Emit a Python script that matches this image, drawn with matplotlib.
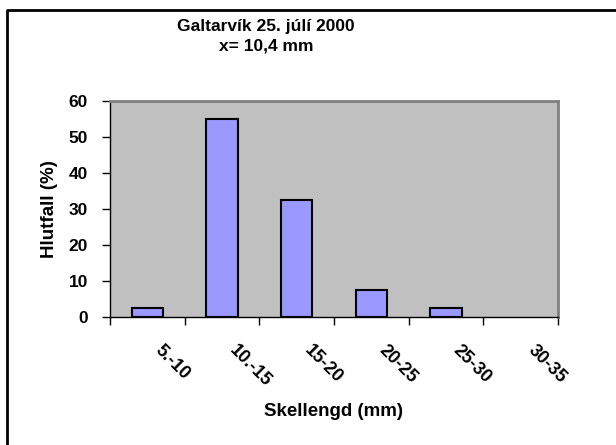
import matplotlib
matplotlib.use("Agg")
import matplotlib.pyplot as plt
import numpy as np

# length classes and share of snails in each (%)
flokkar = ["5.-10", "10.-15", "15-20", "20-25", "25-30", "30-35"]
hlutfall = [2.5, 55.0, 32.5, 7.5, 2.5, 0.0]

plt.rcParams['font.family'] = ['Liberation Sans', 'DejaVu Sans']
plt.rcParams['font.weight'] = 'bold'

W, H = 616, 445
fig = plt.figure(figsize=(W / 100, H / 100), dpi=100)
ax = fig.add_axes([110 / W, 1 - 317 / H, 448 / W, 216 / H])

x = np.arange(len(flokkar))
gildi = np.array(hlutfall)
synd = gildi > 0  # Excel draws nothing for an empty class
ax.bar(x[synd], gildi[synd], width=0.42, color='#9999FF', edgecolor='black',
       linewidth=1.5, zorder=3)

ax.set_xlim(-0.5, len(flokkar) - 0.5)
ax.set_ylim(0, 60)
ax.set_facecolor('#C0C0C0')
ax.set_yticks(range(0, 61, 10))
ax.set_xticks(np.arange(len(flokkar) + 1) - 0.5)
ax.set_xticklabels([])
ax.tick_params(axis='both', direction='out', length=6, width=1, labelsize=12.5)
ax.tick_params(axis='y', pad=10)

for s in ['top', 'right']:
    ax.spines[s].set_color('#808080')
    ax.spines[s].set_linewidth(2)
for s in ['left', 'bottom']:
    ax.spines[s].set_color('black')
    ax.spines[s].set_linewidth(1)

# rotated category labels, Excel style
for i, lab in enumerate(flokkar):
    ax.annotate(lab, xy=(i, 0), xycoords=('data', 'axes fraction'),
                xytext=(10, -31), textcoords='offset pixels',
                rotation=-45, ha='left', va='center', rotation_mode='anchor',
                fontsize=13, fontweight='bold')

fig.text(333 / W, 1 - 411 / H, "Skellengd (mm)", ha='center', va='center',
         fontsize=13.5, fontweight='bold')
fig.text(50 / W, 1 - 209 / H, "Hlutfall (%)", ha='center', va='center',
         rotation=90, fontsize=13.5, fontweight='bold')
fig.text(266 / W, 1 - 27 / H, "Galtarvík 25. júlí 2000", ha='center', va='center',
         fontsize=12.5, fontweight='bold')
fig.text(266 / W, 1 - 46 / H, "x= 10,4 mm", ha='center', va='center',
         fontsize=12.5, fontweight='bold')

# outer chart frame (only top and left edge visible)
fig.add_artist(plt.Line2D([7 / W, 7 / W, 1.0], [0.0, 1 - 9.5 / H, 1 - 9.5 / H],
                          color='black', linewidth=2, transform=fig.transFigure))

fig.savefig("out.png", dpi=100)
